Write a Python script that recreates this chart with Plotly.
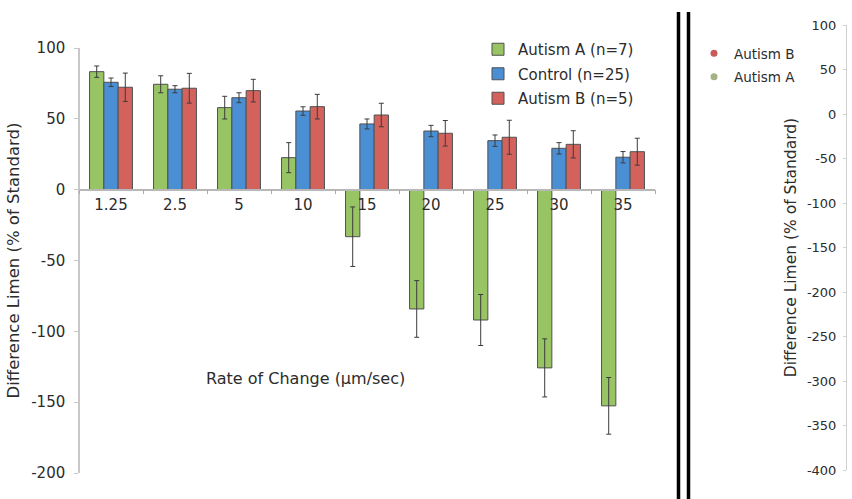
import plotly.graph_objects as go

# Rate of change categories (µm/sec)
rates = ["1.25", "2.5", "5", "10", "15", "20", "25", "30", "35"]

# Difference limen (% of standard) and error bar half-lengths
autism_a = [83.3, 74.4, 57.9, 22.6, -33.2, -84.2, -92.0, -125.8, -152.6]
autism_a_err = [4, 6, 8, 10.6, 21, 20, 18, 20.5, 20]
control = [75.8, 70.9, 64.9, 55.5, 46.4, 41.4, 34.6, 29.2, 22.9]
control_err = [3, 2.5, 3.5, 3, 3.5, 4, 4, 4, 4]
autism_b = [72.3, 71.6, 69.9, 58.6, 52.7, 39.8, 37.0, 32.0, 26.8]
autism_b_err = [10, 10.5, 8, 8.7, 8.3, 9, 12, 9.6, 9.5]

# Axis tick values/labels (plain hyphen for negatives)
left_ticks = [100, 50, 0, -50, -100, -150, -200]
left_labels = ["100", "50", "0", "-50", "-100", "-150", "-200"]
right_ticks = [100, 50, 0, -50, -100, -150, -200, -250, -300, -350, -400]
right_labels = ["100", "50", "0", "-50", "-100", "-150", "-200", "-250", "-300", "-350", "-400"]

FONT = "DejaVu Sans"
TXT = "#2c2c2c"
GREEN = "#98c463"
BLUE = "#4a8fd4"
RED = "#d4625c"
EDGE = "#505050"

W, H = 852, 499

fig = go.Figure()

series = [
    ("Autism A (n=7)", autism_a, autism_a_err, GREEN),
    ("Control (n=25)", control, control_err, BLUE),
    ("Autism B (n=5)", autism_b, autism_b_err, RED),
]
for name, vals, errs, color in series:
    fig.add_trace(go.Bar(
        x=rates, y=vals, name=name, legendgroup=name,
        marker=dict(color=color, line=dict(color=EDGE, width=1)),
        error_y=dict(type="data", array=errs, visible=True,
                     color="#3c3c3c", thickness=1, width=2.5),
        xaxis="x", yaxis="y", legend="legend",
    ))

# Right-hand panel: empty axis with its own legend
for name, color in [("Autism B", "#c85a5a"), ("Autism A", "#a3b383")]:
    fig.add_trace(go.Scatter(
        x=[None], y=[None], mode="markers", name=name, legendgroup="r" + name,
        marker=dict(color=color, size=7, symbol="circle"),
        xaxis="x2", yaxis="y2", legend="legend2",
    ))

def px_x(p):
    return p / W

def px_y(p):
    return (H - p) / H

fig.update_layout(
    width=W, height=H, autosize=False,
    margin=dict(l=0, r=0, t=0, b=0, autoexpand=False),
    paper_bgcolor="white", plot_bgcolor="white",
    font=dict(family=FONT, color=TXT, size=15),
    barmode="group", bargap=0.33, bargroupgap=0,
    xaxis=dict(
        domain=[px_x(79), px_x(655)], automargin=False,
        anchor="free", position=px_y(189.7),
        type="category", tickson="boundaries",
        ticks="outside", ticklen=4, tickcolor="#c0a0a0",
        showline=True, linecolor="#b8b8b8", linewidth=1.5,
        showgrid=False, zeroline=False,
        tickfont=dict(size=15, color=TXT), ticklabelstandoff=2,
    ),
    yaxis=dict(
        domain=[px_y(473), px_y(48)], automargin=False,
        range=[-200, 100], anchor="free", position=px_x(79),
        tickvals=left_ticks, ticktext=left_labels,
        ticks="outside", ticklen=4, tickcolor="#c8c8c8",
        showline=True, linecolor="#c8c8c8", linewidth=1.5,
        showgrid=False, zeroline=False,
        tickfont=dict(size=15, color=TXT), ticklabelstandoff=6,
        title=dict(text="Difference Limen (% of Standard)",
                   font=dict(size=16.5, color=TXT), standoff=6),
    ),
    xaxis2=dict(domain=[px_x(847), 1.0], visible=False, anchor="y2",
                automargin=False),
    yaxis2=dict(
        domain=[px_y(470), px_y(25)], automargin=False,
        range=[-400, 100], anchor="x2", side="left",
        tickvals=right_ticks, ticktext=right_labels,
        ticks="outside", ticklen=3, tickcolor="#d0d0d0",
        showline=True, linecolor="#d0d0d0", linewidth=1,
        showgrid=False, zeroline=False,
        tickfont=dict(size=13, color=TXT), ticklabelstandoff=4,
        title=dict(text="Difference Limen (% of Standard)",
                   font=dict(size=15.5, color=TXT), standoff=6),
    ),
    legend=dict(
        x=px_x(478), y=px_y(33), xanchor="left", yanchor="top",
        bgcolor="rgba(0,0,0,0)", font=dict(size=15, color=TXT),
        itemwidth=30, traceorder="grouped", tracegroupgap=2,
    ),
    legend2=dict(
        x=px_x(694), y=px_y(38), xanchor="left", yanchor="top",
        bgcolor="rgba(0,0,0,0)", font=dict(size=13.5, color=TXT),
        itemwidth=30, traceorder="grouped", tracegroupgap=3,
    ),
    annotations=[dict(
        text="Rate of Change (µm/sec)", xref="paper", yref="paper",
        x=px_x(305.5), y=px_y(378), xanchor="center", yanchor="middle",
        showarrow=False, font=dict(size=16, color=TXT),
    )],
    shapes=[
        dict(type="line", xref="paper", yref="paper",
             x0=px_x(678.5), x1=px_x(678.5), y0=0, y1=px_y(12),
             line=dict(color="black", width=3.5)),
        dict(type="line", xref="paper", yref="paper",
             x0=px_x(688.5), x1=px_x(688.5), y0=0, y1=px_y(12),
             line=dict(color="black", width=3.5)),
    ],
)

fig.write_html("out.html")
